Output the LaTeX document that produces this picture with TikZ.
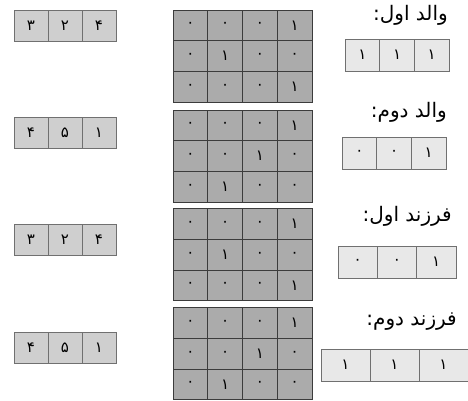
\documentclass[tikz,border=0pt]{standalone}
\usepackage{fontspec}
\newfontfamily\fa[Script=Arabic]{DejaVu Sans}
\TeXXeTstate=1
\usetikzlibrary{positioning}
\definecolor{ordergray}{HTML}{CFCFCF}
\definecolor{gridgray}{HTML}{ABABAB}
\definecolor{genegray}{HTML}{E8E8E8}
\definecolor{edgegray}{HTML}{707070}
\definecolor{inkdark}{HTML}{3C3C3C}
\tikzset{
  cell/.style={draw=edgegray, line width=0.8pt, inner sep=0pt, minimum height=31pt, font=\fa\fontsize{15}{17}\selectfont},
  ordercell/.style={cell, fill=ordergray, minimum width=34pt},
  gridcell/.style={cell, fill=gridgray, draw=inkdark, minimum width=34.75pt, minimum height=30.7pt},
  genecell/.style={cell, fill=genegray, minimum height=32pt},
  caption/.style={anchor=east, font=\fa\fontsize{20}{22}\selectfont, inner sep=0pt}
}
\begin{document}
\begin{tikzpicture}[x=1pt, y=-1pt]
\useasboundingbox (0,0) rectangle (468,400);
% left column
\foreach \r/\y/\a/\b/\c in {1/25.5/۳/۲/۴, 2/133/۴/۵/۱, 3/240/۳/۲/۴, 4/347.5/۴/۵/۱} {
  \node[ordercell] (ord\r-1) at (31,\y) {\a};
  \node[ordercell] (ord\r-2) at (65,\y) {\b};
  \node[ordercell] (ord\r-3) at (99,\y) {\c};
}
% middle grids, \p\q\s = column of the one in each row
\foreach \m/\t/\p/\q/\s in {1/10/4/2/4, 2/110/4/3/2, 3/208.5/4/2/4, 4/307.5/4/3/2} {
  \foreach \r/\k in {1/\p, 2/\q, 3/\s} {
    \foreach \c in {1,...,4} {
      \node[gridcell] (grid\m-\r-\c) at ({173+34.75*(\c-0.5)},{\t+30.7*(\r-0.5)}) {\ifnum\c=\k ۱\else ۰\fi};
    }
  }
}
% right column
\foreach \r/\y/\x/\w/\a/\b/\c in {1/55/345/34.7/۱/۱/۱, 2/153/342/34.7/۰/۰/۱, 3/262/338/39.3/۰/۰/۱, 4/365/321/49/۱/۱/۱} {
  \node[genecell, minimum width=\w pt] (gene\r-1) at ({\x+0.5*\w},\y) {\a};
  \node[genecell, minimum width=\w pt] (gene\r-2) at ({\x+1.5*\w},\y) {\b};
  \node[genecell, minimum width=\w pt] (gene\r-3) at ({\x+2.5*\w},\y) {\c};
}
\node[caption] (cap1) at (448,15) {\beginR والد اول:\endR};
\node[caption] (cap2) at (447,112) {\beginR والد دوم:\endR};
\node[caption] (cap3) at (452,216) {\beginR فرزند اول:\endR};
\node[caption] (cap4) at (457,322) {\beginR فرزند دوم:\endR};
\end{tikzpicture}
\end{document}
